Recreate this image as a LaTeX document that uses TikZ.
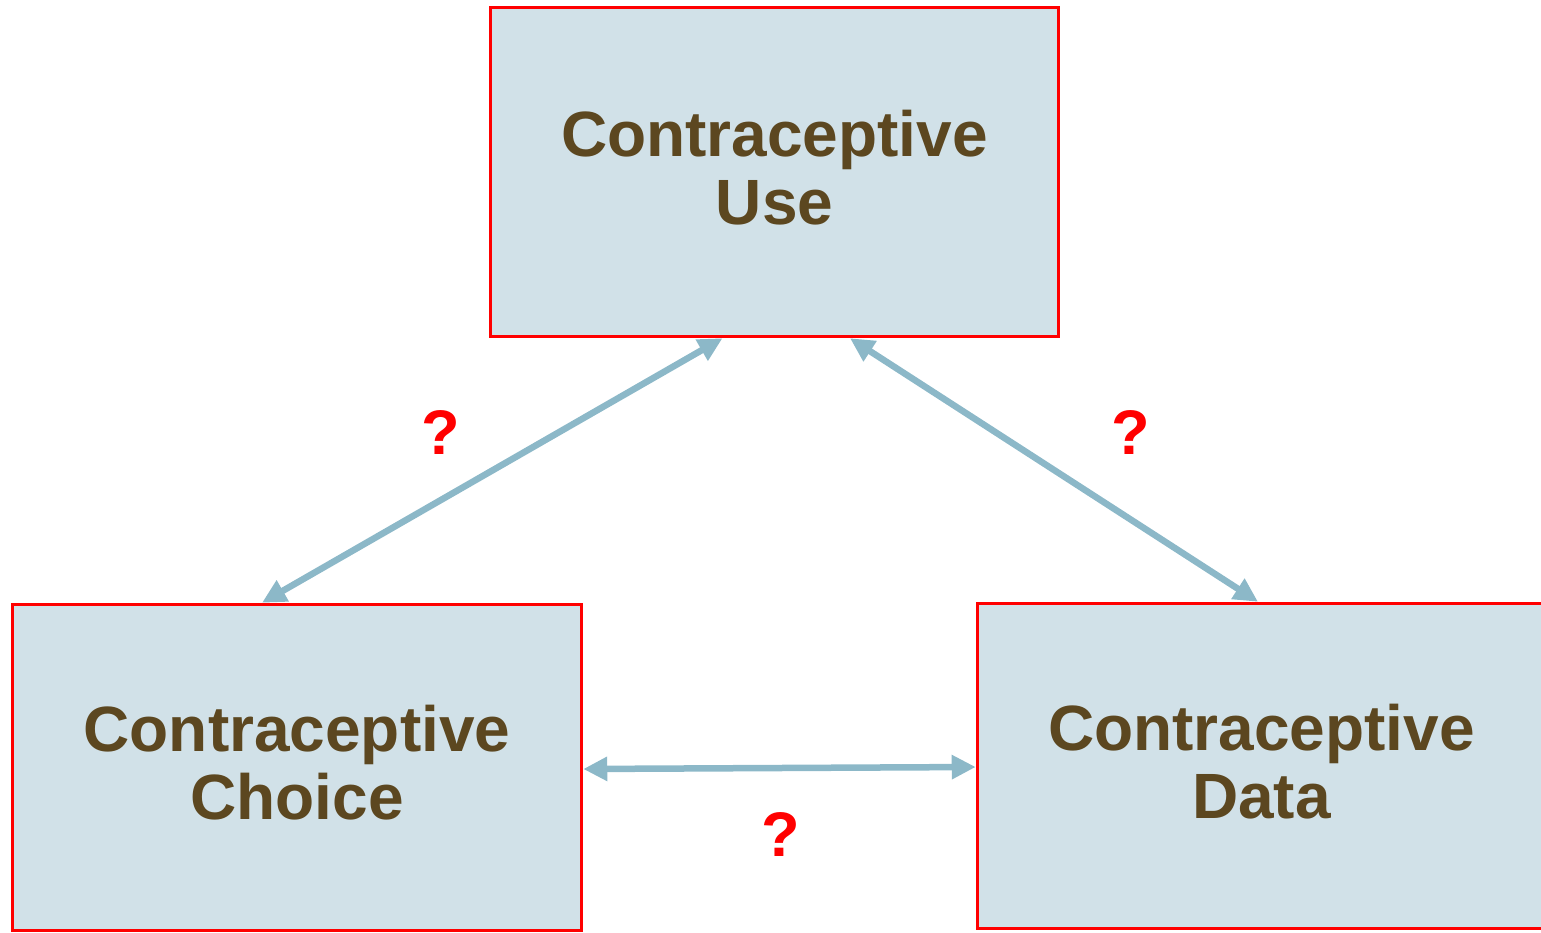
\documentclass[tikz,border=0pt]{standalone}
\usepackage{fontspec}
\setmainfont{Liberation Sans}
\usetikzlibrary{arrows.meta,calc}
\definecolor{boxfill}{HTML}{D1E1E8}
\definecolor{boxtext}{HTML}{5C4720}
\definecolor{arrowblue}{HTML}{8CB8C8}
\definecolor{qred}{HTML}{FF0000}
\tikzset{
  bigbox/.style={draw=qred, line width=3.5pt, fill=boxfill, rectangle,
    text=boxtext, align=center, inner sep=0pt, text depth=10pt,
    font=\fontsize{64}{68}\selectfont\bfseries},
  link/.style={draw=arrowblue, line width=6.5pt,
    {Triangle[length=24pt,width=23pt]}-{Triangle[length=24pt,width=23pt]}},
  qmark/.style={text=qred, anchor=base, inner sep=0pt,
    font=\fontsize{63}{63}\selectfont\bfseries}
}
\begin{document}
\begin{tikzpicture}[x=1pt,y=-1pt]
\useasboundingbox (0,0) rectangle (1541,932);
\node[bigbox, minimum width=568pt, minimum height=329pt] (use) at (774.5,172) {Contraceptive\\Use};
\node[bigbox, minimum width=569pt, minimum height=326pt] (choice) at (297,767.5) {Contraceptive\\Choice};
\node[bigbox, minimum width=568pt, minimum height=325pt] (data) at (1261.5,766) {Contraceptive\\Data};
\draw[link] ([xshift=-35pt]choice.north) -- ([xshift=-52pt]use.south);
\draw[link] ([xshift=75.5pt]use.south) -- ([xshift=-3.5pt]data.north);
\draw[link] ([yshift=-1.5pt]choice.east) -- ([yshift=-1pt]data.west);
\node[qmark] (q1) at (441,454) {?};
\node[qmark] (q2) at (1131,454) {?};
\node[qmark] (q3) at (780.5,856) {?};
\end{tikzpicture}
\end{document}
